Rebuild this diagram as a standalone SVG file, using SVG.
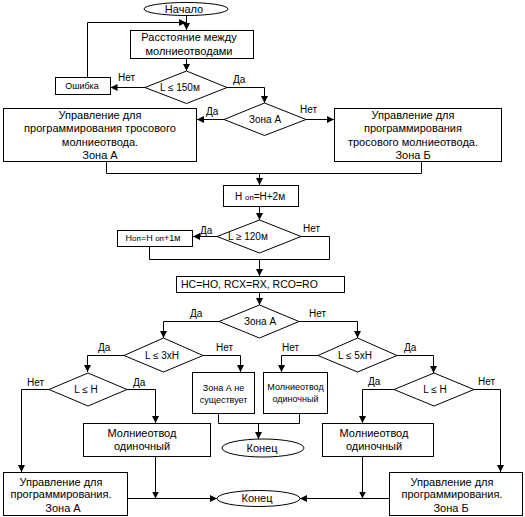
<svg xmlns="http://www.w3.org/2000/svg" width="525" height="517" viewBox="0 0 525 517">
<defs>
<marker id="ar" markerUnits="userSpaceOnUse" markerWidth="7" markerHeight="7" refX="7" refY="3.5" orient="auto">
<path d="M0,0 L7,3.5 L0,7 z" fill="#000"/>
</marker>
<style>
.s{fill:#fff;stroke:#000;stroke-width:1}
.c{fill:none;stroke:#000;stroke-width:1;marker-end:url(#ar)}
.l{fill:none;stroke:#000;stroke-width:1}
text{font-family:"Liberation Sans",Arial,sans-serif;fill:#000}
.t11{font-size:11px;text-anchor:middle}
.t10{font-size:10px;text-anchor:middle}
.t9{font-size:9px;text-anchor:middle}
.lb{font-size:10px}
.sub{font-size:8px}
</style>
</defs>
<rect width="525" height="517" fill="#fff"/>

<g id="connectors">
<path class="c" d="M186.5,16 V30"/>
<path class="c" d="M87.5,77 V22.5 H186"/>
<path class="c" d="M186.5,59 V71"/>
<path class="c" d="M145,87.5 H110.5"/>
<path class="c" d="M227,87.5 H264.5 V103"/>
<path class="c" d="M224,119.5 H197"/>
<path class="c" d="M306,119.5 H334"/>
<path class="l" d="M106.5,161 V173.5 H421.5 V161"/>
<path class="c" d="M259.5,173.5 V185"/>
<path class="c" d="M259.5,207 V220"/>
<path class="c" d="M217,236.5 H193"/>
<path class="l" d="M149.5,247 V259.5 H329.5 V236.5 H301"/>
<path class="c" d="M259.5,259.5 V276"/>
<path class="c" d="M259.5,293 V305"/>
<path class="c" d="M219,321.5 H163.5 V338"/>
<path class="c" d="M299,321.5 H357.5 V338"/>
<path class="c" d="M124,355.5 H87.5 V372"/>
<path class="c" d="M203,355.5 H240.5 V372"/>
<path class="c" d="M318,355.5 H281.5 V372"/>
<path class="c" d="M397,355.5 H433.5 V373"/>
<path class="c" d="M49,389.5 H21.5 V472"/>
<path class="c" d="M127,389.5 H155.5 V423"/>
<path class="c" d="M394,389.5 H362.5 V423"/>
<path class="c" d="M474,389.5 H500.5 V472"/>
<path class="l" d="M218.5,414 V423.5 H299.5 V414"/>
<path class="c" d="M258.5,423.5 V439"/>
<path class="c" d="M155.5,457 V498.5"/>
<path class="c" d="M128,498.5 H217"/>
<path class="c" d="M362.5,457 V498.5"/>
<path class="c" d="M389,498.5 H300"/>
</g>

<g id="start">
<ellipse class="s" cx="186" cy="9" rx="42" ry="6.5"/>
<text class="t11" x="184" y="13">Начало</text>
</g>

<g id="distance">
<rect class="s" x="130.5" y="30.5" width="123" height="28"/>
<text class="t11" x="189" y="41">Расстояние между</text>
<text class="t11" x="189" y="55">молниеотводами</text>
</g>

<g id="check150">
<polygon class="s" points="186.5,71 227,87.5 186.5,103.5 145,87.5"/>
<text class="lb" x="160" y="91">L ≤ 150м</text>
<text class="lb" x="118" y="81">Нет</text>
<text class="lb" x="233" y="83">Да</text>
</g>

<g id="error">
<rect class="s" x="55.5" y="77.5" width="55" height="17"/>
<text class="t9" x="82" y="89">Ошибка</text>
</g>

<g id="zoneA1">
<polygon class="s" points="264.5,103 306,119.5 264.5,135.5 224,119.5"/>
<text class="t10" x="265" y="123">Зона А</text>
<text class="lb" x="206" y="115">Да</text>
<text class="lb" x="300" y="113">Нет</text>
</g>

<g id="cableA">
<rect class="s" x="3.5" y="108.5" width="193" height="53"/>
<text class="t11" x="100" y="119">Управление для</text>
<text class="t11" x="100" y="132">программирования тросового</text>
<text class="t11" x="100" y="146">молниеотвода.</text>
<text class="t11" x="100" y="159">Зона А</text>
</g>

<g id="cableB">
<rect class="s" x="334.5" y="108.5" width="167" height="53"/>
<text class="t11" x="413" y="119">Управление для</text>
<text class="t11" x="413" y="132">программирования</text>
<text class="t11" x="413" y="146">тросового молниеотвода.</text>
<text class="t11" x="413" y="159">Зона Б</text>
</g>

<g id="hop">
<rect class="s" x="223.5" y="185.5" width="75" height="21"/>
<text class="t10" x="260" y="200">H <tspan class="sub">оп</tspan>=H+2м</text>
</g>

<g id="check120">
<polygon class="s" points="259.5,220 301,236.5 259.5,253 217,236.5"/>
<text class="lb" x="228" y="240">L ≥ 120м</text>
<text class="lb" x="200" y="234">Да</text>
<text class="lb" x="303" y="232">Нет</text>
</g>

<g id="hop1">
<rect class="s" x="117.5" y="230.5" width="75" height="16"/>
<text class="t9" x="153" y="241">H<tspan class="sub">оп</tspan>=H <tspan class="sub">оп</tspan>+1м</text>
</g>

<g id="assign">
<rect class="s" x="176.5" y="276.5" width="168" height="16"/>
<text x="181" y="288" font-size="10.5">HC=HO, RCX=RX, RCO=RO</text>
</g>

<g id="zoneA2">
<polygon class="s" points="259.5,305 299,321.5 259.5,338 219,321.5"/>
<text class="t10" x="260" y="325">Зона А</text>
<text class="lb" x="190" y="317">Да</text>
<text class="lb" x="309" y="317">Нет</text>
</g>

<g id="check3xH">
<polygon class="s" points="163.5,338 203,355.5 163.5,372 124,355.5"/>
<text class="t10" x="162" y="359">L ≤ 3xH</text>
<text class="lb" x="98" y="351">Да</text>
<text class="lb" x="216" y="351">Нет</text>
</g>

<g id="check5xH">
<polygon class="s" points="357.5,338 397,355.5 357.5,372 318,355.5"/>
<text class="t10" x="355" y="359">L ≤ 5xH</text>
<text class="lb" x="282" y="351">Нет</text>
<text class="lb" x="404" y="351">Да</text>
</g>

<g id="noZoneA">
<rect class="s" x="192.5" y="372.5" width="62" height="41"/>
<text class="t9" x="223.5" y="391">Зона А не</text>
<text class="t9" x="223.5" y="403">существует</text>
</g>

<g id="singleMid">
<rect class="s" x="263.5" y="372.5" width="64" height="41"/>
<text class="t9" x="295.5" y="390">Молниеотвод</text>
<text class="t9" x="295.5" y="402">одиночный</text>
</g>

<g id="checkHLeft">
<polygon class="s" points="88,373 127,389.5 88,406 49,389.5"/>
<text class="t10" x="86" y="393">L ≤ H</text>
<text class="lb" x="27" y="386">Нет</text>
<text class="lb" x="133" y="386">Да</text>
</g>

<g id="checkHRight">
<polygon class="s" points="434,373 474,389.5 434,406 394,389.5"/>
<text class="t10" x="435" y="393">L ≤ H</text>
<text class="lb" x="368" y="385">Да</text>
<text class="lb" x="478" y="385">Нет</text>
</g>

<g id="end1">
<ellipse class="s" cx="263" cy="448" rx="41" ry="9"/>
<text class="t11" x="262" y="452">Конец</text>
</g>

<g id="singleLeft">
<rect class="s" x="83.5" y="423.5" width="127" height="33"/>
<text class="t11" x="142" y="437">Молниеотвод</text>
<text class="t11" x="142" y="450">одиночный</text>
</g>

<g id="singleRight">
<rect class="s" x="322.5" y="423.5" width="111" height="33"/>
<text class="t11" x="374" y="437">Молниеотвод</text>
<text class="t11" x="374" y="450">одиночный</text>
</g>

<g id="progA">
<rect class="s" x="3.5" y="472.5" width="124" height="43"/>
<text class="t11" x="61" y="486">Управление для</text>
<text class="t11" x="61" y="498">программирования.</text>
<text class="t11" x="63" y="512">Зона А</text>
</g>

<g id="progB">
<rect class="s" x="389.5" y="472.5" width="133" height="43"/>
<text class="t11" x="452" y="486">Управление для</text>
<text class="t11" x="452" y="498">программирования.</text>
<text class="t11" x="451" y="512">Зона Б</text>
</g>

<g id="end2">
<ellipse class="s" cx="258.5" cy="498.5" rx="41.5" ry="8"/>
<text class="t11" x="257" y="502">Конец</text>
</g>
</svg>
